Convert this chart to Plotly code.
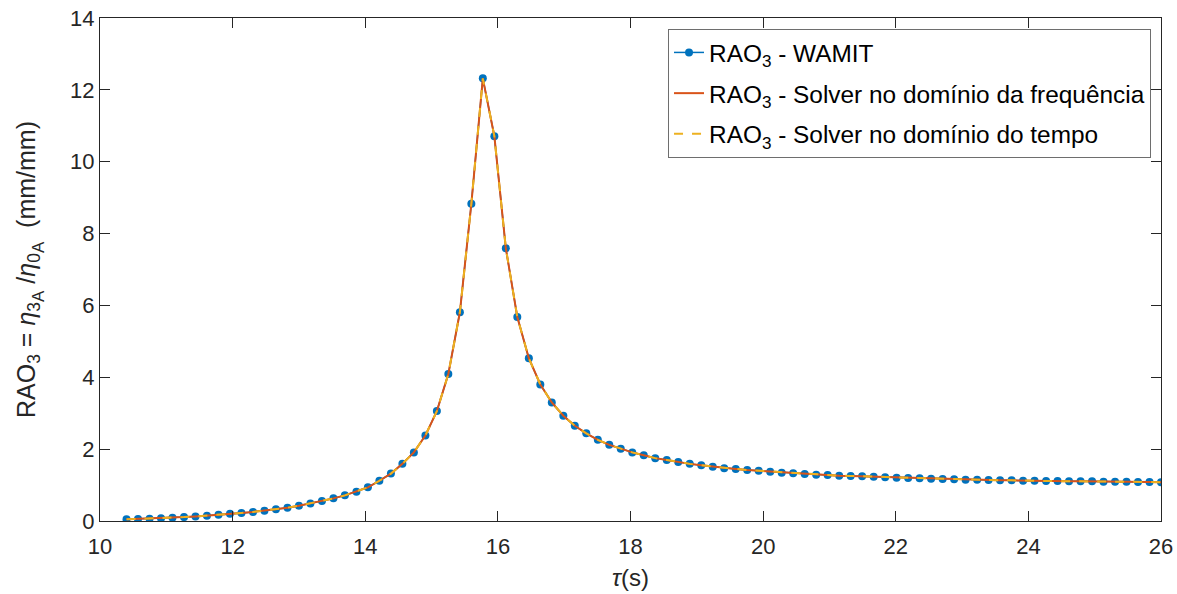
import plotly.graph_objects as go

# Period (s)
periods = [10.400, 10.573, 10.747, 10.920, 11.093, 11.267, 11.440, 11.613, 11.787, 11.960,
           12.133, 12.307, 12.480, 12.653, 12.827, 13.000, 13.173, 13.347, 13.520, 13.693,
           13.867, 14.040, 14.213, 14.387, 14.560, 14.733, 14.907, 15.080, 15.253, 15.427,
           15.600, 15.773, 15.947, 16.120, 16.293, 16.467, 16.640, 16.813, 16.987, 17.160,
           17.333, 17.507, 17.680, 17.853, 18.027, 18.200, 18.373, 18.547, 18.720, 18.893,
           19.067, 19.240, 19.413, 19.587, 19.760, 19.933, 20.107, 20.280, 20.453, 20.627,
           20.800, 20.973, 21.147, 21.320, 21.493, 21.667, 21.840, 22.013, 22.187, 22.360,
           22.533, 22.707, 22.880, 23.053, 23.227, 23.400, 23.573, 23.747, 23.920, 24.093,
           24.267, 24.440, 24.613, 24.787, 24.960, 25.133, 25.307, 25.480, 25.653, 25.827,
           26.000]

# RAO3 (mm/mm) - WAMIT
rao_wamit = [0.046, 0.056, 0.065, 0.075, 0.092, 0.108, 0.128, 0.148, 0.175, 0.202,
             0.225, 0.252, 0.288, 0.325, 0.370, 0.427, 0.490, 0.557, 0.630, 0.714,
             0.816, 0.937, 1.120, 1.320, 1.590, 1.910, 2.380, 3.060, 4.090, 5.810,
             8.830, 12.320, 10.710, 7.590, 5.680, 4.530, 3.800, 3.300, 2.930, 2.650,
             2.440, 2.260, 2.120, 2.010, 1.910, 1.830, 1.750, 1.700, 1.640, 1.590,
             1.550, 1.510, 1.470, 1.450, 1.420, 1.400, 1.370, 1.345, 1.327, 1.308,
             1.290, 1.280, 1.262, 1.253, 1.243, 1.234, 1.215, 1.206, 1.197, 1.187,
             1.178, 1.169, 1.160, 1.150, 1.150, 1.141, 1.132, 1.132, 1.123, 1.123,
             1.113, 1.113, 1.104, 1.104, 1.104, 1.095, 1.095, 1.095, 1.085, 1.085,
             1.076]

# Solvers (coincide with WAMIT at plot resolution)
rao_freq = list(rao_wamit)
rao_time = list(rao_wamit)

x_ticks = [10, 12, 14, 16, 18, 20, 22, 24, 26]
y_ticks = [0, 2, 4, 6, 8, 10, 12, 14]

names = ["RAO<sub>3</sub> - WAMIT",
         "RAO<sub>3</sub> - Solver no domínio da frequência",
         "RAO<sub>3</sub> - Solver no domínio do tempo"]

FONT = "Liberation Sans, Arial, sans-serif"
AX = "#262626"
A_SUB = "<span style='font-size:17px'>A</span>"

fig = go.Figure()
fig.add_trace(go.Scatter(x=periods, y=rao_wamit, name=names[0], mode="lines+markers",
                         legendgroup="g1",
                         line=dict(color="#0072BD", width=1.5),
                         marker=dict(color="#0072BD", size=8)))
fig.add_trace(go.Scatter(x=periods, y=rao_freq, name=names[1], mode="lines",
                         legendgroup="g2",
                         line=dict(color="#D95319", width=2)))
fig.add_trace(go.Scatter(x=periods, y=rao_time, name=names[2], mode="lines",
                         legendgroup="g3",
                         line=dict(color="#EDB120", width=2, dash="dash")))

axis_common = dict(showgrid=False, zeroline=False, showline=True, linecolor=AX, linewidth=1,
                   mirror="ticks", ticks="inside", ticklen=10, tickcolor=AX, tickwidth=1,
                   automargin=False,
                   tickfont=dict(family=FONT, size=22, color=AX))

fig.update_xaxes(range=[10, 26], tickvals=x_ticks, ticktext=[str(v) for v in x_ticks],
                 ticklabelstandoff=6,
                 title=dict(text="<i>τ</i>(s)", font=dict(family=FONT, size=24, color=AX), standoff=10),
                 **axis_common)
fig.update_yaxes(range=[0, 14], tickvals=y_ticks, ticktext=[str(v) for v in y_ticks],
                 title=dict(text="RAO<sub>3</sub> = <i>η</i><sub>3<sub>" + A_SUB + "</sub></sub> /<i>η</i><sub>0<sub>" + A_SUB + "</sub></sub>&nbsp; (mm/mm)",
                            font=dict(family=FONT, size=25, color=AX), standoff=27),
                 **axis_common)

fig.update_layout(
    width=1177, height=594,
    margin=dict(l=100, r=16, t=18, b=73),
    plot_bgcolor="white", paper_bgcolor="white",
    legend=dict(x=0.9906, y=0.978, xanchor="right", yanchor="top",
                bgcolor="white", bordercolor="#6e6e6e", borderwidth=1,
                tracegroupgap=6,
                font=dict(family=FONT, size=24.4, color="black")),
    showlegend=True,
)

fig.write_html("out.html")
